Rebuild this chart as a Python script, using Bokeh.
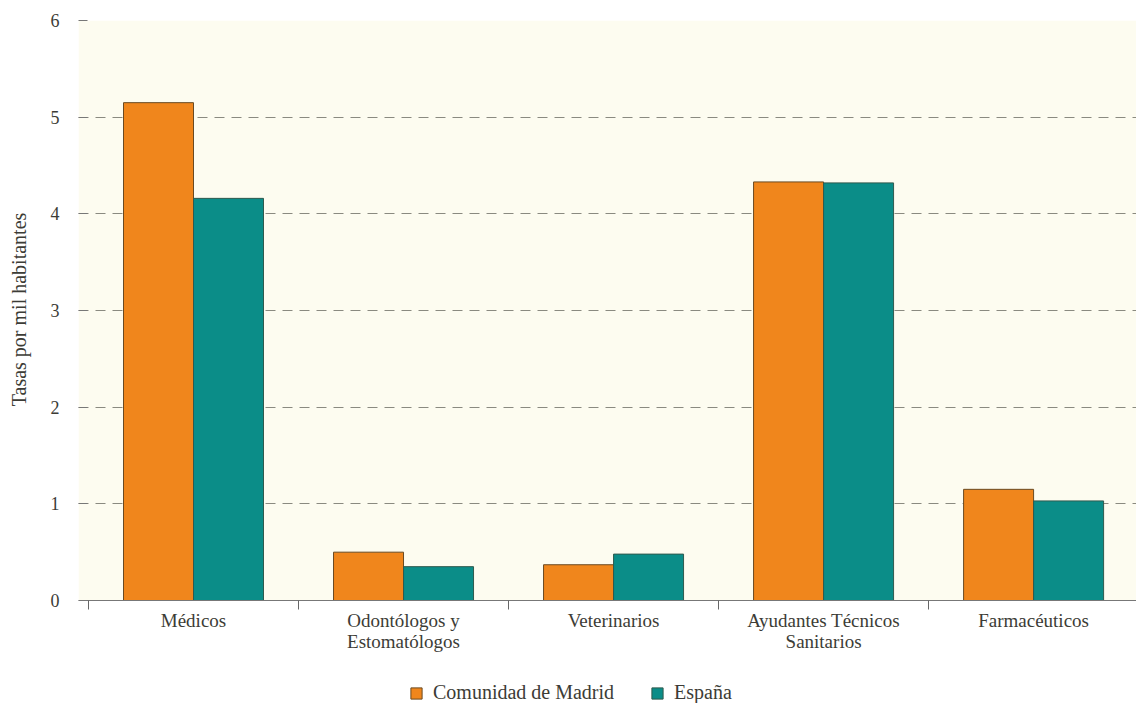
from bokeh.plotting import figure
from bokeh.models import Range1d, FixedTicker, Legend, LegendItem, BoxAnnotation
from bokeh.embed import file_html
from bokeh.resources import INLINE

categories = ["Médicos", "Odontólogos y\nEstomatólogos", "Veterinarios",
              "Ayudantes Técnicos\nSanitarios", "Farmacéuticos"]
madrid = [5.15, 0.50, 0.37, 4.33, 1.15]
espana = [4.16, 0.35, 0.48, 4.32, 1.03]
series_names = ["Comunidad de Madrid", "España"]
y_ticks = [0, 1, 2, 3, 4, 5, 6]
grid_ticks = [1, 2, 3, 4, 5]
y_title = "Tasas por mil habitantes"

FONT = "Liberation Serif"
ORANGE = "#f0861c"
TEAL = "#0b8d88"
TXT = "#3c3c36"
CREAM = "#fdfcf0"

n = len(categories)
centers = [i + 0.5 for i in range(n)]
bar_w = 1 / 3

# frame extends below zero to leave room for the category labels and legend
p = figure(frame_width=1058, frame_height=683, x_range=Range1d(-0.0476, 4.990),
           y_range=Range1d(-1.0655, 6),
           output_backend="svg", toolbar_location=None,
           min_border_left=78, min_border_right=0, min_border_top=20, min_border_bottom=0)
p.outline_line_color = None
p.background_fill_color = "white"
p.border_fill_color = "white"

p.add_layout(BoxAnnotation(bottom=0, fill_color=CREAM, fill_alpha=1, line_color=None, level="image"))

r1 = p.vbar(x=[c - bar_w / 2 for c in centers], top=madrid, width=bar_w, bottom=0,
            fill_color=ORANGE, line_color="#6a4a22", line_width=1)
r2 = p.vbar(x=[c + bar_w / 2 for c in centers], top=espana, width=bar_w, bottom=0,
            fill_color=TEAL, line_color="#2f5a4e", line_width=1)

# x axis at y=0: labels at centres, ticks at category boundaries
xa = p.xaxis[0]
xa.fixed_location = 0
xa.ticker = FixedTicker(ticks=centers, minor_ticks=list(range(n)))
xa.major_label_overrides = {c: lab for c, lab in zip(centers, categories)}
xa.major_tick_line_color = None
xa.major_tick_out = 0
xa.major_tick_in = 0
xa.minor_tick_line_color = "#666666"
xa.minor_tick_out = 9
xa.minor_tick_in = 0
xa.axis_line_color = "#777777"
xa.major_label_text_font = FONT
xa.major_label_text_font_size = "19px"
xa.major_label_text_line_height = 1.0
xa.major_label_text_color = TXT
xa.major_label_standoff = 0

ya = p.yaxis[0]
ya.ticker = FixedTicker(ticks=y_ticks)
ya.axis_line_color = None
ya.major_tick_line_color = "#777777"
ya.major_tick_out = 0
ya.major_tick_in = 9
ya.minor_tick_line_color = None
ya.major_label_text_font = FONT
ya.major_label_text_font_size = "18px"
ya.major_label_text_color = TXT
ya.major_label_standoff = 19
# leading no-break spaces lift the centred title to the middle of the 0-6 band
ya.axis_label = "\u00a0" * 21 + y_title
ya.axis_label_text_font = FONT
ya.axis_label_text_font_style = "normal"
ya.axis_label_text_font_size = "20px"
ya.axis_label_text_color = TXT
ya.axis_label_standoff = 18

p.xgrid.grid_line_color = None
p.ygrid.ticker = FixedTicker(ticks=grid_ticks)
p.ygrid.grid_line_color = "#8a8a80"
p.ygrid.grid_line_dash = "10 7"
p.ygrid.grid_line_width = 1

legend = Legend(items=[LegendItem(label=series_names[0], renderers=[r1]),
                       LegendItem(label=series_names[1], renderers=[r2])],
                orientation="horizontal", location=(331, -1),
                glyph_width=14, glyph_height=14, spacing=36,
                label_text_font=FONT, label_text_font_style="normal",
                label_text_font_size="20px",
                label_text_color=TXT, border_line_color=None,
                background_fill_alpha=0, padding=0, margin=0, label_standoff=10)
p.add_layout(legend, "center")

open("out.html", "w").write(file_html(p, INLINE))
